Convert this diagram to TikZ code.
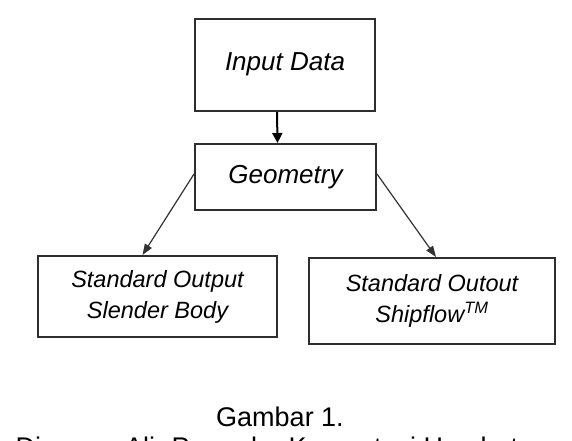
\documentclass[tikz,border=0pt]{standalone}
\usepackage{fontspec}
\setmainfont{Liberation Sans}
\usetikzlibrary{arrows.meta}
\definecolor{boxline}{HTML}{2E2E2E}
\definecolor{arrline}{HTML}{333333}
\tikzset{
  flowbox/.style={draw=boxline, line width=2pt, fill=white, rectangle, inner sep=0pt, font=\itshape, align=center},
  bigtext/.style={font=\itshape\fontsize{26}{30}\selectfont},
  smalltext/.style={font=\itshape\fontsize{23.5}{32}\selectfont},
  mainarrow/.style={draw=black, line width=2pt, -{Triangle[length=10pt,width=10pt]}},
  sidearrow/.style={draw=arrline, line width=1.2pt, -{Triangle[length=11pt,width=8pt]}},
  captext/.style={font=\fontsize{27}{28}\selectfont, anchor=base}
}
\begin{document}
\begin{tikzpicture}[x=1pt,y=-1pt]
\useasboundingbox (0,0) rectangle (572,441);
\fill[white] (0,0) rectangle (572,441);
% boxes
\node[flowbox, bigtext, minimum width=180pt, minimum height=92pt] (inp) at (285,65) {\raisebox{6pt}{Input Data}};
\node[flowbox, bigtext, minimum width=181pt, minimum height=66pt] (geo) at (285.5,177) {\raisebox{-3pt}{Geometry}};
\node[flowbox, smalltext, minimum width=239pt, minimum height=81pt] (sb) at (157.5,296.5) {\raisebox{8pt}{\begin{tabular}{@{}c@{}}Standard Output\\[-1pt]Slender Body\end{tabular}}};
\node[flowbox, smalltext, minimum width=246pt, minimum height=86pt] (sf) at (432,301) {\raisebox{-6pt}{\begin{tabular}{@{}c@{}}Standard Outout\\[-1pt]Shipflow\textsuperscript{TM}\end{tabular}}};
% connectors
\draw[mainarrow] ([xshift=-8pt]inp.south) -- ([xshift=-8pt]geo.north);
\draw[sidearrow] ([yshift=3pt]geo.west) -- ([xshift=-15pt]sb.north);
\draw[sidearrow] ([yshift=3pt]geo.east) -- ([xshift=4pt]sf.north);
% caption
\node[captext] (cap1) at (280,426) {Gambar 1.};
\node[captext] (cap2) at (282,456) {Diagram Alir Prosedur Komputasi Hambatan};
\end{tikzpicture}
\end{document}
